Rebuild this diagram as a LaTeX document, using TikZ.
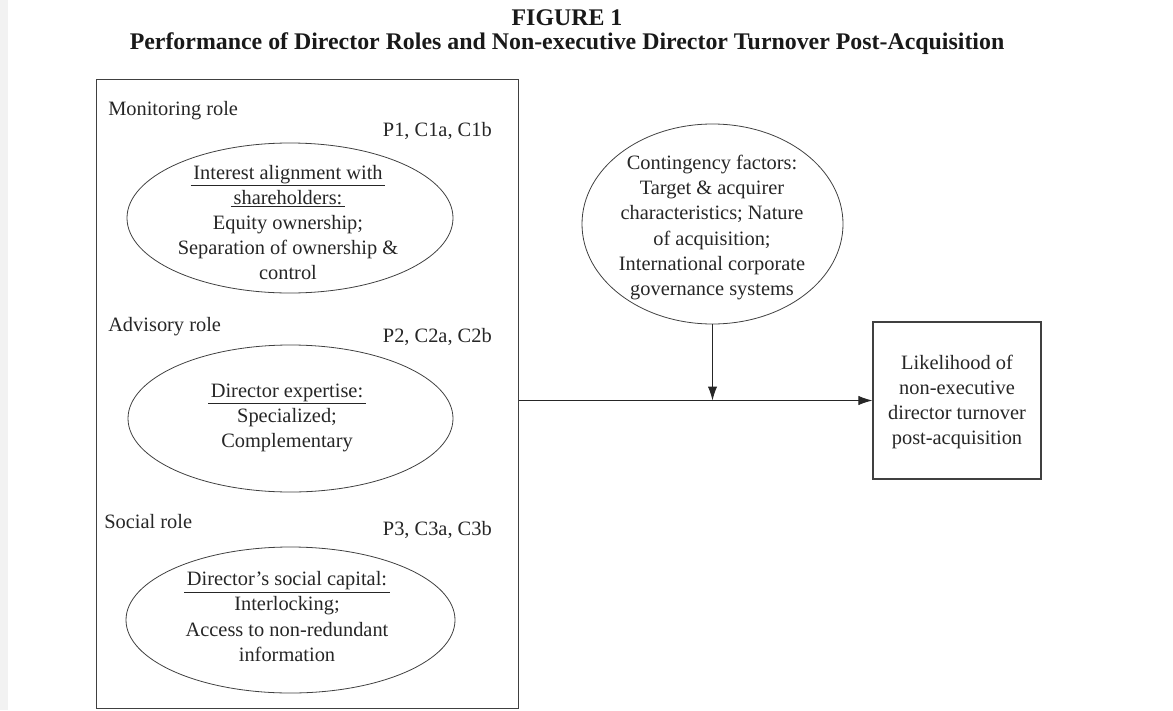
\documentclass[tikz,border=0pt]{standalone}
\usepackage{fontspec}
\setmainfont{Liberation Serif}
\usetikzlibrary{shapes.geometric,arrows.meta}
\newcommand{\uline}[1]{\underline{\kern2pt #1\kern2pt}}
\begin{document}
\begin{tikzpicture}[x=0.75pt,y=-0.75pt,
  body/.style={font=\fontsize{15.3}{18.8}\selectfont, text=black!85, inner sep=0pt, align=center},
  titletext/.style={font=\fontsize{17.9}{21}\selectfont\bfseries, text=black!90, inner sep=0pt},
  roleoval/.style={ellipse, draw=black!75, line width=0.6pt, inner sep=0pt},
  frame/.style={draw=black!75, line width=0.8pt, inner sep=0pt},
  link/.style={draw=black!85, line width=0.75pt, -{Latex[length=10.5pt,width=7pt]}}]
\useasboundingbox (0,0) rectangle (1173,710);
\fill[black!5] (0,0) rectangle (8,710);

% heading
\node[titletext] (fig) at (567,18) {FIGURE 1};
\node[titletext] (title) at (567,44) {Performance of Director Roles and Non-executive Director Turnover Post-Acquisition};

% director roles panel
\node[frame, anchor=north west, minimum width=316.5pt, minimum height=471.75pt] (roles) at (96,79) {};

\node[body, anchor=west] (monlabel) at (108,111) {Monitoring role};
\node[body, anchor=east] (monref) at (492,131) {P1, C1a, C1b};
\node[roleoval, minimum width=244.5pt, minimum height=112.5pt] (mon) at (290,218) {};
\node[body] (montext) at (288,222.5) {\uline{Interest alignment with}\\ \uline{shareholders:}\\ Equity ownership;\\ Separation of ownership \&\\ control};

\node[body, anchor=west] (advlabel) at (108,327) {Advisory role};
\node[body, anchor=east] (advref) at (492,337) {P2, C2a, C2b};
\node[roleoval, minimum width=243.75pt, minimum height=110.25pt] (adv) at (290.5,418.5) {};
\node[body] (advtext) at (287,418) {\uline{Director expertise:}\\ Specialized;\\ Complementary};

\node[body, anchor=west] (soclabel) at (104,522) {Social role};
\node[body, anchor=east] (socref) at (492,530) {P3, C3a, C3b};
\node[roleoval, minimum width=246.75pt, minimum height=109.5pt] (soc) at (290.5,620) {};
\node[body] (soctext) at (287,616.5) {\uline{Director’s social capital:}\\ Interlocking;\\ Access to non-redundant\\ information};

% moderating factors
\node[roleoval, minimum width=195.75pt, minimum height=150pt] (cont) at (712.5,224) {};
\node[body] (conttext) at (712,227.5) {Contingency factors:\\ Target \& acquirer\\ characteristics; Nature\\ of acquisition;\\ International corporate\\ governance systems};

% outcome
\node[frame, minimum width=126pt, minimum height=117.75pt] (result) at (957,400.5) {};
\node[body] (resulttext) at (957,402) {Likelihood of\\ non-executive\\ director turnover\\ post-acquisition};

% connectors
\draw[link] (roles.east |- result.west) -- (result.west);
\draw[link] (cont.south) -- (cont.south |- result.west);
\end{tikzpicture}
\end{document}
